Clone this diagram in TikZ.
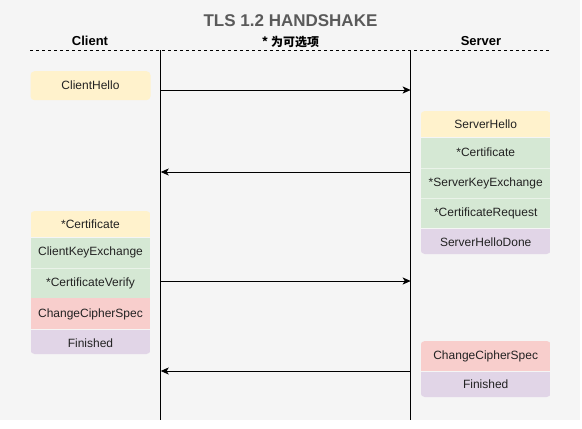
\documentclass[tikz,border=0pt]{standalone}
\usepackage{fontspec}
\setmainfont{Liberation Sans}
\newfontfamily\cjk{Noto Sans CJK SC}
\usetikzlibrary{positioning, arrows.meta}
\definecolor{bggray}{HTML}{F5F5F5}
\definecolor{msgyellow}{HTML}{FFF2CC}
\definecolor{msggreen}{HTML}{D5E8D4}
\definecolor{msgred}{HTML}{F8CECC}
\definecolor{msgpurple}{HTML}{E1D5E7}
\definecolor{titlegray}{HTML}{5A5A5A}
\definecolor{msgtext}{HTML}{222222}

\tikzset{
	msg/.style={rectangle, minimum height=30pt, inner sep=0pt, text=msgtext, font=\fontsize{12}{14}\selectfont, anchor=north},
	cmsg/.style={msg, minimum width=120pt},
	smsg/.style={msg, minimum width=130pt},
	head/.style={font=\bfseries\fontsize{13}{15}\selectfont, text=black, inner sep=0pt},
	seam/.style={draw=white, opacity=0.5, line width=0.6pt},
	life/.style={draw=black, line width=1pt},
	send/.style={draw=black, line width=1pt, -{Stealth[length=8pt, width=7pt, inset=2pt]}},
}

\begin{document}
\begin{tikzpicture}[x=1pt, y=-1pt]
		\pgfmathsetmacro{\clientx}{160.7}
		\pgfmathsetmacro{\serverx}{410.7}
		\pgfmathsetmacro{\cboxx}{90.5}
		\pgfmathsetmacro{\sboxx}{485.7}
		% background
		\fill[white] (0,0) rectangle (582,429);
		\fill[bggray] (0,0) rectangle (580,420);
		\useasboundingbox (0,0) rectangle (582,429);
		
		% headings
		\node[font=\bfseries\fontsize{17}{19}\selectfont, text=titlegray, inner sep=0pt] (title) at (290.5,21) {TLS 1.2 HANDSHAKE};
		\node[head] (client) at (90,41) {Client};
		\node[head, font=\cjk\bfseries\fontsize{12}{14}\selectfont] (note) at (290.5,42) {* 为可选项};
		\node[head] (server) at (481,41) {Server};
		\coordinate (dashl) at (30,50);
		\coordinate (dashr) at (550,50);
		\draw[black, line width=0.8pt, dash pattern=on 3pt off 3pt] (dashl) -- (dashr);
		
		% lifelines
		\coordinate (ctop) at (\clientx,50);
		\coordinate (cbot) at (\clientx,420);
		\coordinate (stop) at (\serverx,50);
		\coordinate (sbot) at (\serverx,420);
		\draw[life] (ctop) -- (cbot);
		\draw[life] (stop) -- (sbot);
		
		% client hello
		\node[cmsg, fill=msgyellow, rounded corners=4pt, minimum height=29pt] (chello) at (\cboxx,71) {ClientHello};
		
		% server hello ... done
		\begin{scope}
			\clip[rounded corners=4pt] (\sboxx-65,111) rectangle (\sboxx+65,254);
			\node[smsg, fill=msgyellow, minimum height=26pt] (shello) at (\sboxx,111) {ServerHello};
			\node[smsg, fill=msggreen, below=0pt of shello] (scert) {*Certificate};
			\node[smsg, fill=msggreen, below=0pt of scert] (skex) {*ServerKeyExchange};
			\node[smsg, fill=msggreen, below=0pt of skex] (sreq) {*CertificateRequest};
			\node[smsg, fill=msgpurple, minimum height=26pt, below=0pt of sreq] (sdone) {ServerHelloDone};
			\draw[seam] (scert.south west) -- (scert.south east);
			\draw[seam] (skex.south west) -- (skex.south east);
		\end{scope}
		
		% client certificate ... finished
		\begin{scope}
			\clip[rounded corners=4pt] (\cboxx-60,211) rectangle (\cboxx+60,354);
			\node[cmsg, fill=msgyellow, minimum height=26pt] (ccert) at (\cboxx,211) {*Certificate};
			\node[cmsg, fill=msggreen, below=0pt of ccert] (ckex) {ClientKeyExchange};
			\node[cmsg, fill=msggreen, below=0pt of ckex] (cverify) {*CertificateVerify};
			\node[cmsg, fill=msgred, minimum height=31pt, below=0pt of cverify] (cspec) {ChangeCipherSpec};
			\node[cmsg, fill=msgpurple, minimum height=26pt, below=0pt of cspec] (cfin) {Finished};
			\draw[seam] (ckex.south west) -- (ckex.south east);
		\end{scope}
		
		% server change cipher spec, finished
		\begin{scope}
			\clip[rounded corners=4pt] (\sboxx-65,341) rectangle (\sboxx+65,397);
			\node[smsg, fill=msgred] (sspec) at (\sboxx,341) {ChangeCipherSpec};
			\node[smsg, fill=msgpurple, minimum height=26pt, below=0pt of sspec] (sfin) {Finished};
		\end{scope}
		
		% messages
		\coordinate (c1) at (\clientx,90);
		\coordinate (s1) at (\serverx,90);
		\coordinate (c2) at (\clientx,172);
		\coordinate (s2) at (\serverx,172);
		\coordinate (c3) at (\clientx,281);
		\coordinate (s3) at (\serverx,281);
		\coordinate (c4) at (\clientx,371);
		\coordinate (s4) at (\serverx,371);
		\draw[send] (c1) -- (s1);
		\draw[send] (s2) -- (c2);
		\draw[send] (c3) -- (s3);
		\draw[send] (s4) -- (c4);
\end{tikzpicture}
\end{document}
